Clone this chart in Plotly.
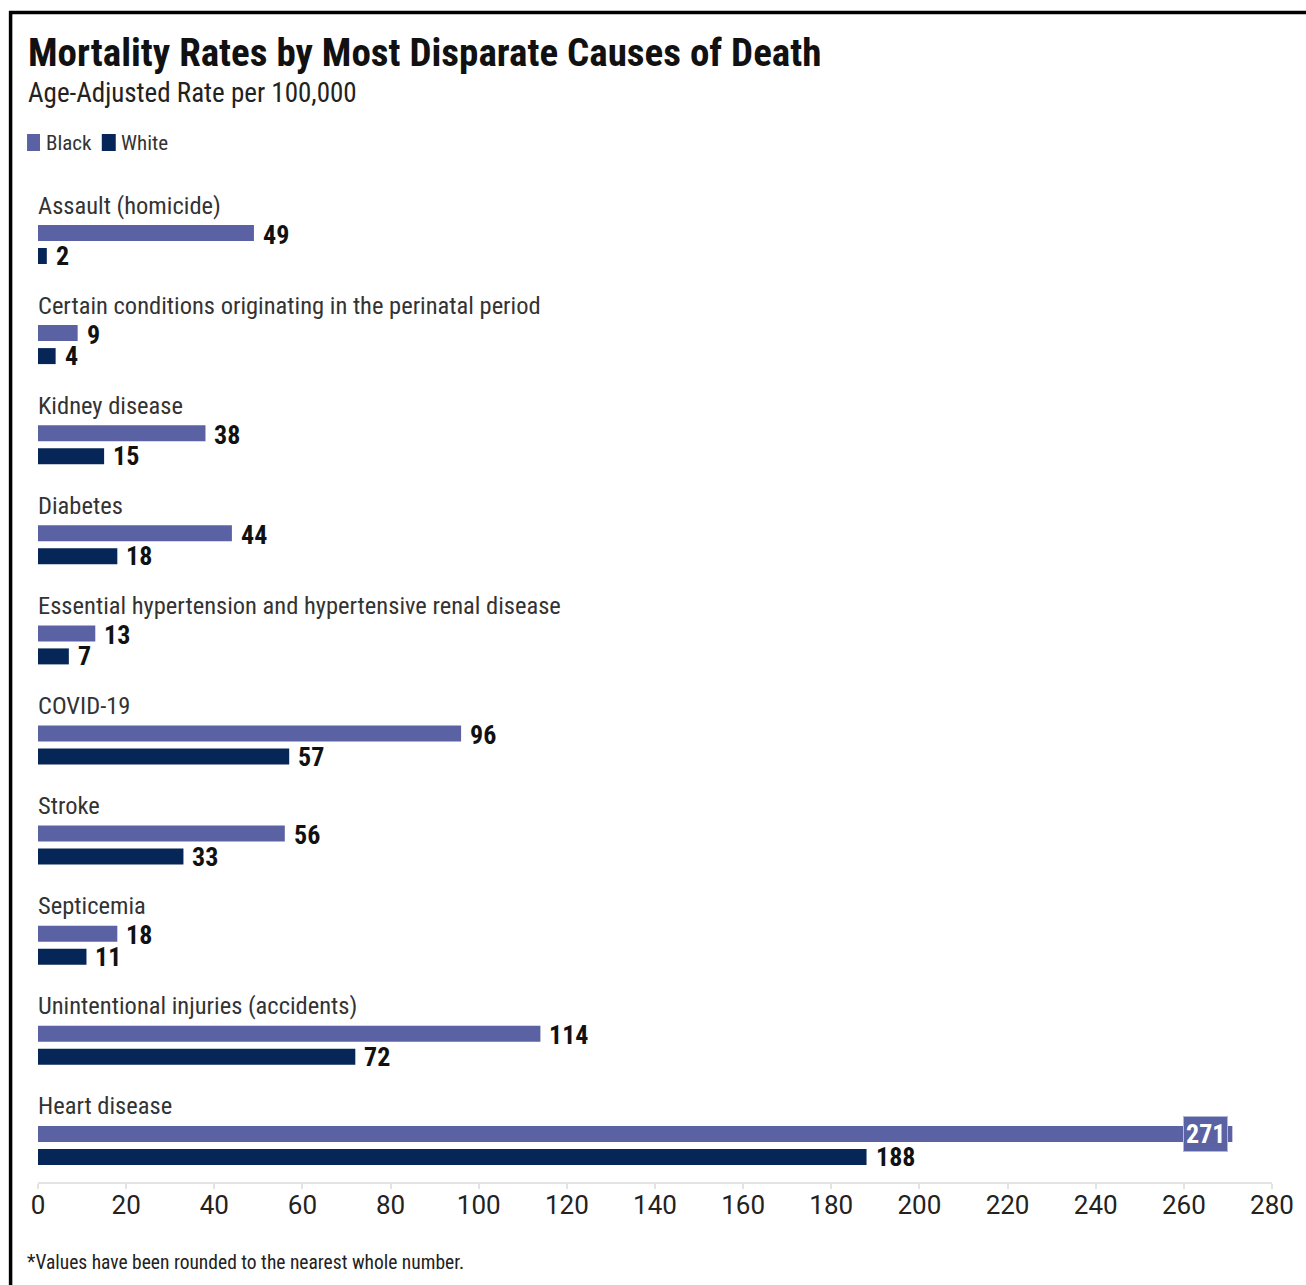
import plotly.graph_objects as go

# Age-adjusted mortality rates per 100,000
causes = [
    "Assault (homicide)",
    "Certain conditions originating in the perinatal period",
    "Kidney disease",
    "Diabetes",
    "Essential hypertension and hypertensive renal disease",
    "COVID-19",
    "Stroke",
    "Septicemia",
    "Unintentional injuries (accidents)",
    "Heart disease",
]
black_rates = [49, 9, 38, 44, 13, 96, 56, 18, 114, 271]
white_rates = [2, 4, 15, 18, 7, 57, 33, 11, 72, 188]
tick_values = [0, 20, 40, 60, 80, 100, 120, 140, 160, 180, 200, 220, 240, 260, 280]

BLACK_COLOR = "#5a62a4"
WHITE_COLOR = "#062658"
NARROW = "Liberation Sans Narrow, Roboto Condensed, Arial Narrow, sans-serif"
ROBOTO = "Roboto, sans-serif"

W, H = 1306, 1285
L, R, T, B = 38, 30, 180, 103
PLOT_W = W - L - R
PLOT_H = H - T - B


def px_x(px):
    return (px - L) / PLOT_W


def px_y(py):
    return 1 - (py - T) / PLOT_H


# vertical layout of each group (y axis works in pixel rows, top = 180)
ROW_STEP = 100.1
LABEL_Y0 = 205
label_y = [LABEL_Y0 + i * ROW_STEP for i in range(len(causes))]
black_y = [y + 28 for y in label_y]
white_y = [y + 51 for y in label_y]

fig = go.Figure()
fig.add_trace(go.Bar(
    name="Black", orientation="h", x=black_rates, y=black_y, width=16,
    marker=dict(color=BLACK_COLOR, line=dict(width=0)), hoverinfo="x+name",
))
fig.add_trace(go.Bar(
    name="White", orientation="h", x=white_rates, y=white_y, width=16,
    marker=dict(color=WHITE_COLOR, line=dict(width=0)), hoverinfo="x+name",
))

annotations = []
for name, y in zip(causes, label_y):
    annotations.append(dict(
        x=0, y=y, xref="x", yref="y", text=name, showarrow=False,
        xanchor="left", yanchor="middle", xshift=-1, borderpad=0,
        font=dict(family=NARROW, size=24.5, color="#333333"),
    ))

max_black = max(black_rates)
for v, y in zip(black_rates, black_y):
    if v == max_black:
        # the longest bar carries its value inside, on a boxed tag
        annotations.append(dict(
            x=v, y=y, xref="x", yref="y", text=f"<b>{v}</b>", showarrow=False,
            xanchor="right", yanchor="middle", xshift=-4,
            font=dict(family=NARROW, size=26, color="white"),
            bgcolor=BLACK_COLOR, bordercolor="#b4b8d8", borderwidth=1, borderpad=2,
        ))
    else:
        annotations.append(dict(
            x=v, y=y + 1.5, xref="x", yref="y", text=f"<b>{v}</b>", showarrow=False,
            xanchor="left", yanchor="middle", xshift=8, borderpad=0,
            font=dict(family=NARROW, size=26, color="#111111"),
        ))
for v, y in zip(white_rates, white_y):
    annotations.append(dict(
        x=v, y=y, xref="x", yref="y", text=f"<b>{v}</b>", showarrow=False,
        xanchor="left", yanchor="middle", xshift=8, borderpad=0,
        font=dict(family=NARROW, size=26, color="#111111"),
    ))

# titles, legend text and footnote
annotations += [
    dict(x=px_x(26), y=px_y(53), xref="paper", yref="paper",
         text="<b>Mortality Rates by Most Disparate Causes of Death</b>",
         showarrow=False, xanchor="left", yanchor="middle",
         font=dict(family=NARROW, size=39, color="#111111")),
    dict(x=px_x(26), y=px_y(93), xref="paper", yref="paper",
         text="Age-Adjusted Rate per 100,000", showarrow=False,
         xanchor="left", yanchor="middle",
         font=dict(family=NARROW, size=27, color="#222222")),
    dict(x=px_x(44), y=px_y(143), xref="paper", yref="paper",
         text="Black", showarrow=False, xanchor="left", yanchor="middle",
         font=dict(family=NARROW, size=21, color="#333333")),
    dict(x=px_x(119), y=px_y(143), xref="paper", yref="paper",
         text="White", showarrow=False, xanchor="left", yanchor="middle",
         font=dict(family=NARROW, size=21, color="#333333")),
    dict(x=px_x(25), y=px_y(1262), xref="paper", yref="paper",
         text="*Values have been rounded to the nearest whole number.",
         showarrow=False, xanchor="left", yanchor="middle",
         font=dict(family=NARROW, size=19.5, color="#222222")),
]

shapes = [
    # legend swatches
    dict(type="rect", xref="paper", yref="paper",
         x0=px_x(27), x1=px_x(40), y0=px_y(134), y1=px_y(151),
         fillcolor=BLACK_COLOR, line=dict(width=0)),
    dict(type="rect", xref="paper", yref="paper",
         x0=px_x(102), x1=px_x(116), y0=px_y(134), y1=px_y(151),
         fillcolor=WHITE_COLOR, line=dict(width=0)),
    # outer frame
    dict(type="line", xref="paper", yref="paper",
         x0=px_x(9), x1=px_x(W + 5), y0=px_y(12.5), y1=px_y(12.5),
         line=dict(color="black", width=3.5)),
    dict(type="line", xref="paper", yref="paper",
         x0=px_x(10.5), x1=px_x(10.5), y0=px_y(11), y1=px_y(H + 5),
         line=dict(color="black", width=3.5)),
]

fig.update_layout(
    width=W, height=H,
    margin=dict(l=L, r=R, t=T, b=B),
    paper_bgcolor="white", plot_bgcolor="white",
    showlegend=False, barmode="overlay",
    annotations=annotations, shapes=shapes,
    xaxis=dict(
        range=[0, 280], tickvals=tick_values, showgrid=False, zeroline=False,
        showline=True, linecolor="#e3e3e3", linewidth=1.5,
        ticks="outside", ticklen=5, tickcolor="#e3e3e3", tickwidth=1.5,
        ticklabelstandoff=-6,
        tickfont=dict(family=ROBOTO, size=26, color="#222222"),
    ),
    yaxis=dict(
        range=[T + PLOT_H, T], showgrid=False, zeroline=False,
        showticklabels=False, showline=False, fixedrange=True,
    ),
)

fig.write_html("out.html")
